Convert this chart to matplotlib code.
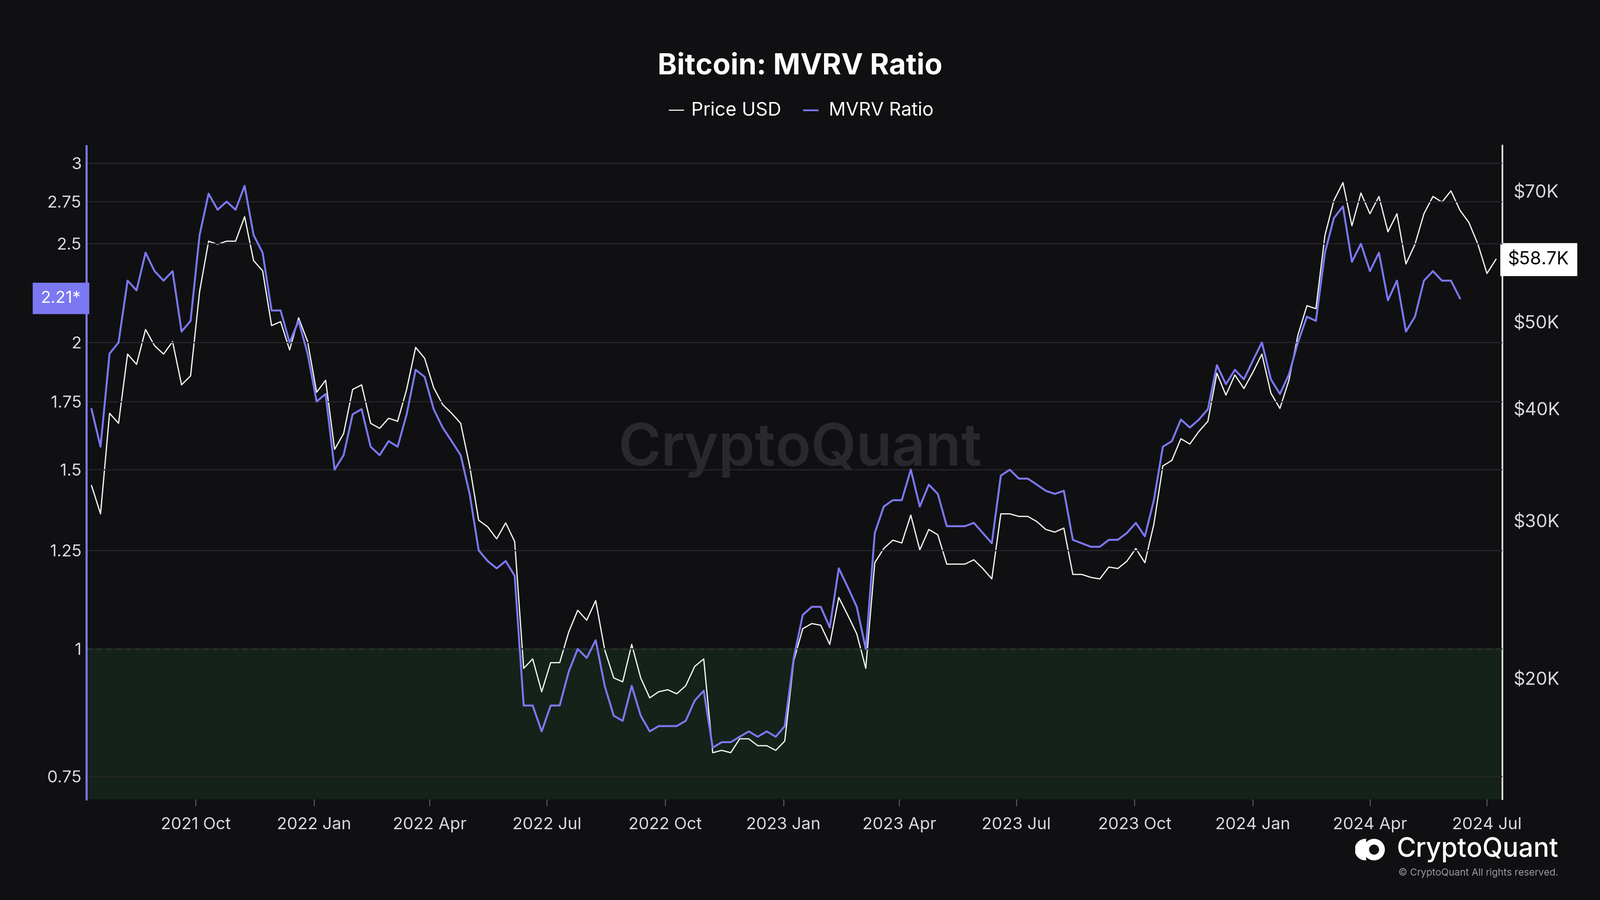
import matplotlib
matplotlib.use("Agg")
import matplotlib.pyplot as plt
import matplotlib.ticker as mticker
from matplotlib.patches import Circle, Wedge
import pandas as pd
import numpy as np

price_k = [
    # 2021 (from Jul 12, weekly)
    32.8, 30.5, 39.5, 38.5, 46.0, 44.8, 49.0, 47.0, 46.0, 47.5, 42.5, 43.5,
    54.0, 61.5, 61.0, 61.5, 61.5, 65.5, 58.5, 57.0, 49.5, 50.0, 46.5, 50.5, 47.5,
    # 2022
    41.7, 43.0, 36.0, 37.5, 42.0, 42.5, 38.5, 38.0, 39.0, 38.7, 42.0, 46.8, 45.5,
    42.2, 40.4, 39.5, 38.5, 34.5, 30.0, 29.5, 28.6, 29.8, 28.4, 20.5, 21.0, 19.3,
    20.8, 20.8, 22.5, 23.8, 23.2, 24.4, 21.5, 20.0, 19.8, 21.8, 20.0, 19.0, 19.3,
    19.4, 19.2, 19.6, 20.6, 21.0, 16.5, 16.6, 16.5, 17.1, 17.1, 16.8, 16.8, 16.6,
    # 2023
    17.0, 20.9, 22.7, 23.0, 22.9, 21.8, 24.6, 23.5, 22.4, 20.5, 26.9, 27.9, 28.5,
    28.3, 30.4, 27.8, 29.3, 28.9, 26.8, 26.8, 26.8, 27.1, 26.5, 25.8, 30.5, 30.5,
    30.3, 30.3, 29.9, 29.3, 29.1, 29.4, 26.1, 26.1, 25.9, 25.8, 26.6, 26.5, 27.0,
    27.9, 26.9, 29.7, 34.5, 35.0, 37.0, 36.5, 37.7, 38.7, 43.8, 41.4, 43.6, 42.1,
    # 2024
    43.9, 46.0, 41.6, 40.0, 43.0, 48.3, 52.1, 51.7, 62.4, 68.3, 71.5, 64.0, 69.6,
    66.0, 69.0, 63.0, 66.0, 58.0, 61.0, 66.0, 69.0, 68.0, 70.0, 66.6, 64.5, 61.0,
    56.6, 58.7,
]

mvrv = [
    # 2021
    1.72, 1.58, 1.95, 2.0, 2.3, 2.25, 2.45, 2.35, 2.3, 2.35, 2.05, 2.1,
    2.55, 2.8, 2.7, 2.75, 2.7, 2.85, 2.55, 2.45, 2.15, 2.15, 2.0, 2.1, 1.95,
    # 2022
    1.75, 1.78, 1.5, 1.55, 1.7, 1.72, 1.58, 1.55, 1.6, 1.58, 1.7, 1.88, 1.85,
    1.72, 1.65, 1.6, 1.55, 1.42, 1.25, 1.22, 1.2, 1.22, 1.18, 0.88, 0.88, 0.83,
    0.88, 0.88, 0.95, 1.0, 0.98, 1.02, 0.92, 0.86, 0.85, 0.92, 0.86, 0.83, 0.84,
    0.84, 0.84, 0.85, 0.89, 0.91, 0.80, 0.81, 0.81, 0.82, 0.83, 0.82, 0.83, 0.82,
    # 2023
    0.84, 0.98, 1.08, 1.1, 1.1, 1.05, 1.2, 1.15, 1.1, 1.0, 1.3, 1.38, 1.4,
    1.4, 1.5, 1.38, 1.45, 1.42, 1.32, 1.32, 1.32, 1.33, 1.3, 1.27, 1.48, 1.5,
    1.47, 1.47, 1.45, 1.43, 1.42, 1.43, 1.28, 1.27, 1.26, 1.26, 1.28, 1.28, 1.3,
    1.33, 1.29, 1.4, 1.58, 1.6, 1.68, 1.65, 1.68, 1.72, 1.9, 1.82, 1.88, 1.84,
    # 2024
    1.92, 2.0, 1.84, 1.78, 1.86, 2.0, 2.12, 2.1, 2.45, 2.65, 2.72, 2.4, 2.5,
    2.35, 2.45, 2.2, 2.3, 2.05, 2.12, 2.3, 2.35, 2.3, 2.3, 2.21,
]

mvrv_ticks = [0.75, 1, 1.25, 1.5, 1.75, 2, 2.5, 2.75, 3]
price_ticks_k = [20, 30, 40, 50, 70]
x_ticks = ["2021-10-01", "2022-01-01", "2022-04-01", "2022-07-01", "2022-10-01",
           "2023-01-01", "2023-04-01", "2023-07-01", "2023-10-01", "2024-01-01",
           "2024-04-01", "2024-07-01"]
x_labels = ["2021 Oct", "2022 Jan", "2022 Apr", "2022 Jul", "2022 Oct", "2023 Jan",
            "2023 Apr", "2023 Jul", "2023 Oct", "2024 Jan", "2024 Apr", "2024 Jul"]

dates_p = pd.date_range("2021-07-12", periods=len(price_k), freq="7D")
dates_m = pd.date_range("2021-07-12", periods=len(mvrv), freq="7D")

BG = "#101013"
PURPLE = "#7b78f2"
GRID = "#26262b"
TXT = "#d9d9de"
YLO, YHI = 0.712, 3.12

plt.rcParams["font.family"] = "Inter"
fig = plt.figure(figsize=(16, 9), dpi=250, facecolor=BG)
ax = fig.add_axes([0.054, 0.112, 0.885, 0.726], facecolor=BG)
ax2 = ax.twinx()

ax.set_yscale("log")
ax.set_ylim(YLO, YHI)
ax.yaxis.set_major_locator(mticker.FixedLocator(mvrv_ticks))
ax.yaxis.set_minor_locator(mticker.NullLocator())
ax.set_yticklabels([f"{t:g}" for t in mvrv_ticks])
ax.set_xlim(pd.Timestamp("2021-07-08"), pd.Timestamp("2024-07-13"))
ax.set_xticks([pd.Timestamp(d) for d in x_ticks])
ax.set_xticklabels(x_labels)
ax.grid(axis="y", color=GRID, lw=0.8)
ax.tick_params(colors=TXT, labelsize=12, length=0)
ax.tick_params(axis="x", pad=8, length=5, color="#555")

ax2.set_yscale("log")
ax2.set_ylim(14.64, 78.6)
ax2.yaxis.set_major_locator(mticker.FixedLocator(price_ticks_k))
ax2.yaxis.set_minor_locator(mticker.NullLocator())
ax2.set_yticklabels([f"${t}K" for t in price_ticks_k])
ax2.tick_params(colors=TXT, labelsize=13, length=0, pad=8)

for a in (ax, ax2):
    for s in ("top", "bottom"):
        a.spines[s].set_visible(False)
ax.spines["left"].set_color(PURPLE)
ax.spines["left"].set_linewidth(1.5)
ax.spines["right"].set_visible(False)
ax2.spines["left"].set_visible(False)
ax2.spines["right"].set_color("#e0e0e0")
ax2.spines["right"].set_linewidth(1.2)

# green zone below MVRV = 1, drawn on the bottom axes so both lines sit above it
frac = np.log(1.0 / YLO) / np.log(YHI / YLO)
ax2.fill_between([0, 1], 0, frac, transform=ax2.transAxes, color="#15221a",
                 zorder=0, lw=0)
ax.axhline(1.0, color="#3f7a3f", ls=(0, (4, 3)), lw=1.0, zorder=1)

ax.plot(dates_m, mvrv, color=PURPLE, lw=1.4, zorder=3)
ax2.plot(dates_p, price_k, color="#f0f0f0", lw=0.9, zorder=2)
ax.set_zorder(ax2.get_zorder() + 1)
ax.patch.set_visible(False)
ax2.patch.set_facecolor(BG)

fig.text(0.5, 0.5, "CryptoQuant", color="#29292d", fontsize=42, ha="center",
         va="center", fontweight="semibold", zorder=0)

fig.text(0.5, 0.926, "Bitcoin: MVRV Ratio", color="white", fontsize=21,
         fontweight="bold", ha="center", va="center")
fig.text(0.418, 0.877, "—", color="#e8e8e8", fontsize=11, ha="left", va="center")
fig.text(0.432, 0.877, "Price USD", color="white", fontsize=13.5, ha="left", va="center")
fig.text(0.502, 0.877, "—", color=PURPLE, fontsize=11, ha="left", va="center",
         fontweight="bold")
fig.text(0.518, 0.877, "MVRV Ratio", color="white", fontsize=13.5, ha="left", va="center")

ax.annotate(f"{mvrv[-1]:.2f}*", xy=(0, mvrv[-1]), xycoords=("axes fraction", "data"),
            xytext=(-4, 0), textcoords="offset points", ha="right", va="center",
            color="white", fontsize=12,
            bbox=dict(boxstyle="square,pad=0.45", fc=PURPLE, ec=PURPLE))
ax2.annotate(f"${price_k[-1]:.1f}K", xy=(1, price_k[-1]), xycoords=("axes fraction", "data"),
             xytext=(4, 0), textcoords="offset points", ha="left", va="center",
             color="black", fontsize=13,
             bbox=dict(boxstyle="square,pad=0.4", fc="white", ec="white"))

fig.text(0.974, 0.056, "CryptoQuant", color="white", fontsize=19, ha="right",
         va="center", fontweight="medium")
# logo mark
lax = fig.add_axes([0.842, 0.040, 0.03, 0.032])
lax.set_xlim(0, 2.2); lax.set_ylim(-1, 1); lax.set_aspect("equal"); lax.axis("off")
lax.add_patch(Wedge((0.7, 0), 0.7, 90, 270, color="white"))
lax.add_patch(Circle((1.3, 0), 0.7, color="white"))
lax.add_patch(Circle((1.3, 0), 0.3, color=BG))
fig.text(0.974, 0.030, "© CryptoQuant All rights reserved.", color="#9a9aa0",
         fontsize=7, ha="right", va="center")

fig.savefig("out.png", dpi=250, facecolor=BG)
